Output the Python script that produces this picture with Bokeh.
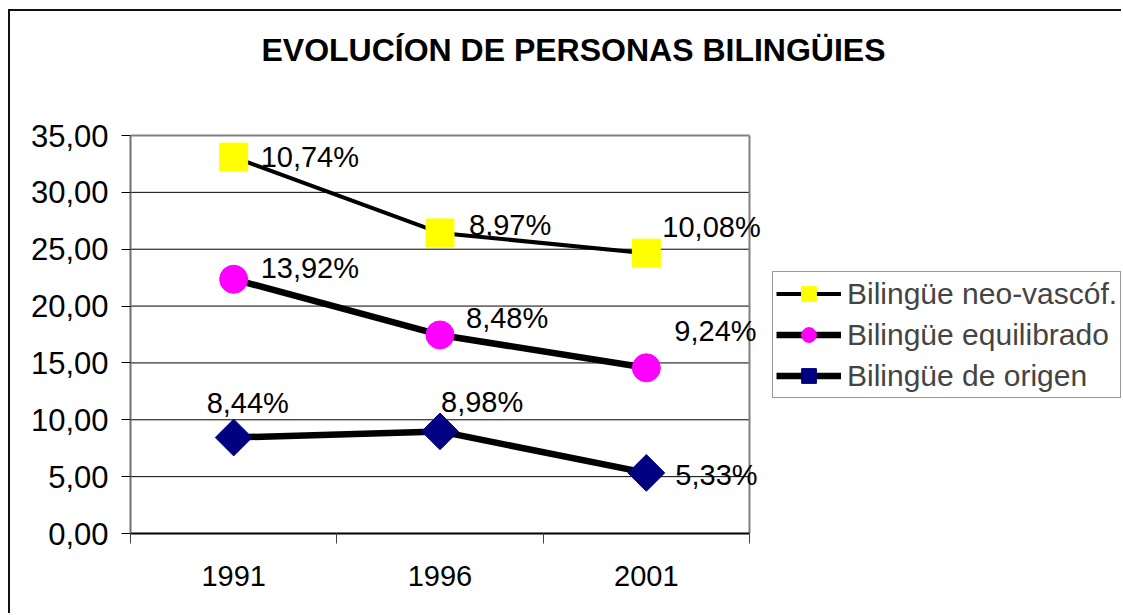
import numpy as np
from bokeh.plotting import figure
from bokeh.models import (Range1d, FixedTicker, LinearAxis, Label, LabelSet, ColumnDataSource,
                          Legend, LegendItem)
from bokeh.core.properties import value
from bokeh.embed import file_html
from bokeh.resources import INLINE

# ---------------- data ----------------
title_text = "EVOLUCÍON DE PERSONAS BILINGÜIES"
years = ["1991", "1996", "2001"]
series_names = ["Bilingüe de origen", "Bilingüe equilibrado", "Bilingüe neo-vascóf."]
origen = [8.44, 8.98, 5.33]
equilibrado = [13.92, 8.48, 9.24]
neo_vascof = [10.74, 8.97, 10.08]
y_ticks = [0, 5, 10, 15, 20, 25, 30, 35]
y_tick_labels = ["0,00", "5,00", "10,00", "15,00", "20,00", "25,00", "30,00", "35,00"]

# ---------------- styles / layout ----------------
FONT = "Liberation Sans"
colors = ["#000080", "#FF00FF", "#FFFF00"]
line_widths = [6.5, 6.5, 4]
label_dx = [[-27, 1, 29], [27, 26, 28], [27, 29, 16]]
label_dy = [[35, 29, -2], [11, 17, 37], [0, 8, 26]]

W, H = 1113, 604
LEFT, BOTTOM = 120, 82
PLOT_W, PLOT_H = 619, 398          # visible plot area (px)
frame_w, frame_h = W - LEFT, H - BOTTOM
y_max = y_ticks[-1]
n = len(years)
x_end = n * frame_w / PLOT_W
y_end = y_max * frame_h / PLOT_H

x_pos = [i + 0.5 for i in range(n)]
raw = [origen, equilibrado, neo_vascof]
stacked = np.cumsum(np.array(raw), axis=0)

p = figure(width=W, height=H, output_backend="svg", toolbar_location=None,
           x_range=Range1d(0, x_end), y_range=Range1d(0, y_end),
           x_axis_type=None, y_axis_type=None,
           min_border_left=LEFT, min_border_right=0, min_border_top=0, min_border_bottom=BOTTOM,
           styles={"border-left": "2px solid #111111", "border-top": "2px solid #111111",
                   "margin-left": "8px", "margin-top": "9px"})
p.background_fill_color = "white"
p.border_fill_color = "white"
p.outline_line_color = None
p.xgrid.visible = False
p.ygrid.visible = False

# grid lines and plot-area outline (limited to the plot area)
gy = y_ticks[1:-1]
p.segment(x0=[0] * len(gy), x1=[n] * len(gy), y0=gy, y1=gy, line_color="black", line_width=1)
p.segment(x0=[0, n], x1=[n, n], y0=[y_max, 0], y1=[y_max, y_max], line_color="#808080", line_width=2)

# axes
yaxis = LinearAxis(ticker=FixedTicker(ticks=y_ticks, minor_ticks=[]), bounds=(0, y_max),
                   major_label_overrides={t: l for t, l in zip(y_ticks, y_tick_labels)})
yaxis.axis_line_color = "#707070"
yaxis.axis_line_width = 2
yaxis.major_tick_in = 0
yaxis.major_tick_out = 9
yaxis.major_tick_line_color = "black"
yaxis.minor_tick_line_color = None
yaxis.major_label_standoff = 13
yaxis.major_label_text_font = FONT
yaxis.major_label_text_font_size = "31px"
yaxis.major_label_text_color = "black"
p.add_layout(yaxis, "left")

xaxis = LinearAxis(ticker=FixedTicker(ticks=x_pos, minor_ticks=list(range(n + 1))), bounds=(0, n),
                   major_label_overrides={x: y for x, y in zip(x_pos, years)})
xaxis.axis_line_color = "black"
xaxis.axis_line_width = 2
xaxis.major_tick_line_color = None
xaxis.major_tick_in = 0
xaxis.major_tick_out = 0
xaxis.minor_tick_in = 0
xaxis.minor_tick_out = 10
xaxis.minor_tick_line_color = "#444444"
xaxis.minor_tick_line_width = 1
xaxis.major_label_standoff = 22
xaxis.major_label_text_font = FONT
xaxis.major_label_text_font_size = "29px"
xaxis.major_label_text_color = "black"
p.add_layout(xaxis, "below")

markers = ["square", "circle", "square"]
angles = [np.pi / 4, 0, 0]
sizes = [26, 28, 28]

renderers = []
for i in range(3):
    src = ColumnDataSource(dict(
        x=x_pos, y=list(stacked[i]),
        txt=[f"{v:.2f}".replace(".", ",") + "%" for v in raw[i]],
        dx=label_dx[i], dy=label_dy[i]))
    ln = p.line("x", "y", source=src, line_color="black", line_width=line_widths[i])
    sc = p.scatter("x", "y", source=src, marker=markers[i], size=sizes[i], angle=angles[i],
                   fill_color=colors[i], line_color=colors[i], line_width=1)
    renderers.append((ln, sc))
    labels = LabelSet(x="x", y="y", text="txt", source=src, x_offset="dx", y_offset="dy",
                      text_align="left", text_baseline="middle",
                      text_font=value(FONT), text_font_size=value("29px"), text_color="black")
    p.add_layout(labels)

title = Label(x=2.147, y=42.5, text=title_text, text_align="center", text_baseline="middle",
              text_font=FONT, text_font_size="32px", text_font_style="bold", text_color="black")
p.add_layout(title)

legend = Legend(items=[LegendItem(label=series_names[i], renderers=list(renderers[i])) for i in [2, 1, 0]],
                location=(642, 135))
legend.label_text_font = FONT
legend.label_text_font_size = "30px"
legend.glyph_width = 65
legend.glyph_height = 37
legend.label_height = 37
legend.spacing = 4
legend.padding = 3
legend.label_standoff = 6
legend.margin = 0
legend.border_line_color = "#333333"
legend.border_line_width = 1
legend.background_fill_color = "white"
legend.background_fill_alpha = 1
p.add_layout(legend)

open("out.html", "w").write(file_html(p, INLINE))
